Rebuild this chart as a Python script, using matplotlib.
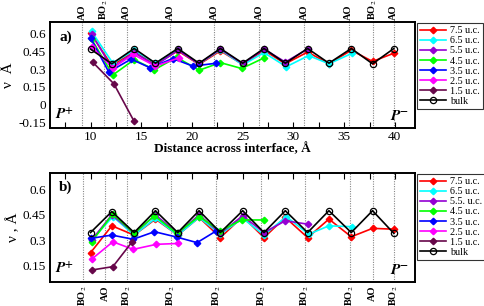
import matplotlib
matplotlib.use("Agg")
import matplotlib.pyplot as plt

plt.rcParams["font.family"] = ["Liberation Serif", "DejaVu Serif"]
plt.rcParams["mathtext.fontset"] = "stix"

# --- panel a) data ---
bulk_x = [10.0, 12.1, 14.3, 16.4, 18.6, 20.7, 22.8, 25.0, 27.1, 29.2, 31.4, 33.5, 35.7, 37.8, 39.9]
bulk_a = [0.47, 0.345, 0.475, 0.35, 0.475, 0.35, 0.475, 0.35, 0.475, 0.35, 0.475, 0.35, 0.475, 0.345, 0.475]

red_x = [10.0, 12.1, 14.3, 16.4, 18.6, 20.7, 22.8, 25.0, 27.1, 29.2, 31.4, 33.5, 35.7, 37.8, 39.9]
red_a = [0.605, 0.33, 0.45, 0.34, 0.455, 0.34, 0.455, 0.34, 0.46, 0.345, 0.445, 0.345, 0.46, 0.365, 0.435]
cyan_x = [10.1, 12.2, 14.3, 16.4, 18.6, 20.7, 22.8, 25.0, 27.1, 29.3, 31.5, 33.5, 35.8]
cyan_a = [0.62, 0.35, 0.46, 0.35, 0.465, 0.345, 0.465, 0.335, 0.44, 0.32, 0.415, 0.345, 0.435]
purple_x = [10.1, 12.1, 14.3, 16.4, 18.6, 20.7, 22.8, 25.0, 27.1, 29.2, 31.4]
purple_a = [0.6, 0.31, 0.44, 0.33, 0.46, 0.345, 0.47, 0.345, 0.47, 0.36, 0.47]
green_x = [10.1, 12.2, 14.3, 16.3, 18.5, 20.7, 22.8, 24.9, 27.1]
green_a = [0.555, 0.25, 0.38, 0.295, 0.40, 0.29, 0.355, 0.305, 0.395]
blue_x = [10.0, 11.8, 14.0, 15.9, 18.1, 20.1, 22.4]
blue_a = [0.565, 0.275, 0.385, 0.31, 0.39, 0.325, 0.35]
magenta_x = [10.1, 12.2, 14.2, 16.4, 18.7]
magenta_a = [0.49, 0.31, 0.425, 0.325, 0.395]
maroon_x = [10.2, 12.3, 14.3]
maroon_a = [0.36, 0.175, -0.145]

# --- panel b) data ---
bulk_b = [0.345, 0.47, 0.345, 0.475, 0.345, 0.475, 0.345, 0.475, 0.345, 0.475, 0.345, 0.475, 0.345, 0.475, 0.34]
red_b = [0.225, 0.385, 0.33, 0.425, 0.33, 0.435, 0.315, 0.44, 0.315, 0.435, 0.315, 0.425, 0.32, 0.37, 0.365]
cyan_b = [0.30, 0.44, 0.33, 0.43, 0.33, 0.435, 0.335, 0.43, 0.33, 0.44, 0.335, 0.385, 0.38]
purple_b = [0.30, 0.45, 0.34, 0.45, 0.34, 0.45, 0.34, 0.445, 0.345, 0.415, 0.395]
green_b = [0.29, 0.455, 0.34, 0.445, 0.34, 0.44, 0.355, 0.42, 0.42]
blue_bx = [10.0, 12.1, 14.2, 16.3, 18.5, 20.5, 22.4]
blue_b = [0.31, 0.33, 0.305, 0.35, 0.318, 0.285, 0.355]
magenta_bx = [10.1, 12.2, 14.2, 16.5, 18.6]
magenta_b = [0.186, 0.29, 0.245, 0.275, 0.28]
maroon_bx = [10.1, 12.2, 14.1]
maroon_b = [0.122, 0.142, 0.29]

labels_a = ["7.5 u.c.", "6.5 u.c.", "5.5 u.c.", "4.5 u.c.", "3.5 u.c.", "2.5 u.c.", "1.5 u.c."]
labels_b = ["7.5 u.c.", "6.5 u.c.", "5.5. u.c.", "4.5 u.c.", "3.5 u.c.", "2.5 u.c.", "1.5 u.c."]
colors = ["#ff0000", "#00ffff", "#9400d3", "#00ff00", "#0000ff", "#ff00ff", "#67074a"]

# layer planes (dotted lines) and their names
planes_a = [9.2, 11.35, 13.55, 17.85, 22.2, 26.65, 31.05, 35.45, 37.8, 39.9]
names_a = ["AO", "BO$_2$", "AO", "AO", "AO", "AO", "AO", "AO", "BO$_2$", "AO"]
planes_b = [9.25, 11.45, 13.6, 17.95, 22.4, 26.85, 31.15, 35.55, 37.8, 39.9]
names_b = ["BO$_2$", "AO", "BO$_2$", "BO$_2$", "BO$_2$", "BO$_2$", "BO$_2$", "BO$_2$", "AO", "BO$_2$"]

fig = plt.figure(figsize=(4.85, 3.06), dpi=100)
ax1 = fig.add_axes([0.103, 0.582, 0.753, 0.346])
ax2 = fig.add_axes([0.103, 0.078, 0.753, 0.357])


def draw_panel(ax, series, bulk_y, labels, planes, names, top):
    for p in planes:
        ax.axvline(p, color="#888888", ls=(0, (1, 1.2)), lw=0.8, zorder=1)
    for (xs, ys), c, lab in zip(series, colors, labels):
        ax.plot(xs, ys, color=c, marker="D", ms=3.3, lw=1.2, label=lab, zorder=3)
    ax.plot(bulk_x, bulk_y, color="black", marker="o", ms=4.5, mfc="none",
            mec="black", mew=0.9, lw=1.2, label="bulk", zorder=4)
    ax.set_xlim(6, 42)
    ax.set_xticks([10, 15, 20, 25, 30, 35, 40])
    ax.set_xticks([7.5, 12.5, 17.5, 22.5, 27.5, 32.5, 37.5], minor=True)
    for sp in ax.spines.values():
        sp.set_linewidth(1.4)
    trans = ax.get_xaxis_transform()
    for p, n in zip(planes, names):
        if top:
            ax.text(p, 1.02, n, rotation=90, ha="center", va="bottom",
                    fontsize=7.5, fontweight="bold", transform=trans)
        else:
            ax.text(p, -0.03, n, rotation=90, ha="center", va="top",
                    fontsize=7.5, fontweight="bold", transform=trans)
    ax.text(0.015, 0.05, "$\\boldsymbol{P}^{\\mathbf{+}}$", transform=ax.transAxes,
            fontsize=11, ha="left", va="bottom")
    ax.text(0.985, 0.05, "$\\boldsymbol{P}^{\\mathbf{-}}$", transform=ax.transAxes,
            fontsize=11, ha="right", va="bottom")
    leg = ax.legend(loc="upper left", bbox_to_anchor=(1.005, 0.99), fontsize=7.3,
                    frameon=True, fancybox=False, edgecolor="black",
                    handlelength=2.6, labelspacing=0.1, borderpad=0.3,
                    handletextpad=0.4, borderaxespad=0.0)
    leg.get_frame().set_linewidth(0.8)


series_a = [(red_x, red_a), (cyan_x, cyan_a), (purple_x, purple_a), (green_x, green_a),
            (blue_x, blue_a), (magenta_x, magenta_a), (maroon_x, maroon_a)]
series_b = [(red_x, red_b), (cyan_x, cyan_b), (purple_x, purple_b), (green_x, green_b),
            (blue_bx, blue_b), (magenta_bx, magenta_b), (maroon_bx, maroon_b)]

draw_panel(ax1, series_a, bulk_a, labels_a, planes_a, names_a, True)
draw_panel(ax2, series_b, bulk_b, labels_b, planes_b, names_b, False)

ax1.set_ylim(-0.2, 0.7)
ax1.set_yticks([-0.15, 0, 0.15, 0.3, 0.45, 0.6])
ax1.set_yticklabels(["-0.15", "0", "0.15", "0.3", "0.45", "0.6"])
ax1.tick_params(axis="x", which="both", direction="in", length=4, width=0.8,
                labelsize=9.5, pad=2, bottom=True, top=False)
ax1.tick_params(axis="y", direction="in", length=0, labelsize=9.5, pad=3)
ax1.set_ylabel("ν  Å", fontsize=11, labelpad=2)
ax1.text(0.025, 0.92, "a)", transform=ax1.transAxes, fontsize=11,
         fontweight="bold", ha="left", va="top")
ax1.set_xlabel("Distance across interface, Å", fontsize=9.5, fontweight="bold",
               labelpad=0)

ax2.set_ylim(0.05, 0.7)
ax2.set_yticks([0.15, 0.3, 0.45, 0.6])
ax2.set_yticklabels(["0.15", "0.3", "0.45", "0.6"])
ax2.tick_params(axis="x", which="both", direction="in", length=4, width=0.8,
                labelbottom=False, bottom=False, top=True)
ax2.tick_params(axis="y", direction="in", length=0, labelsize=9.5, pad=3)
ax2.set_ylabel("ν , Å", fontsize=11, labelpad=2)
ax2.text(0.025, 0.93, "b)", transform=ax2.transAxes, fontsize=11,
         fontweight="bold", ha="left", va="top")

fig.savefig("out.png", dpi=100)
